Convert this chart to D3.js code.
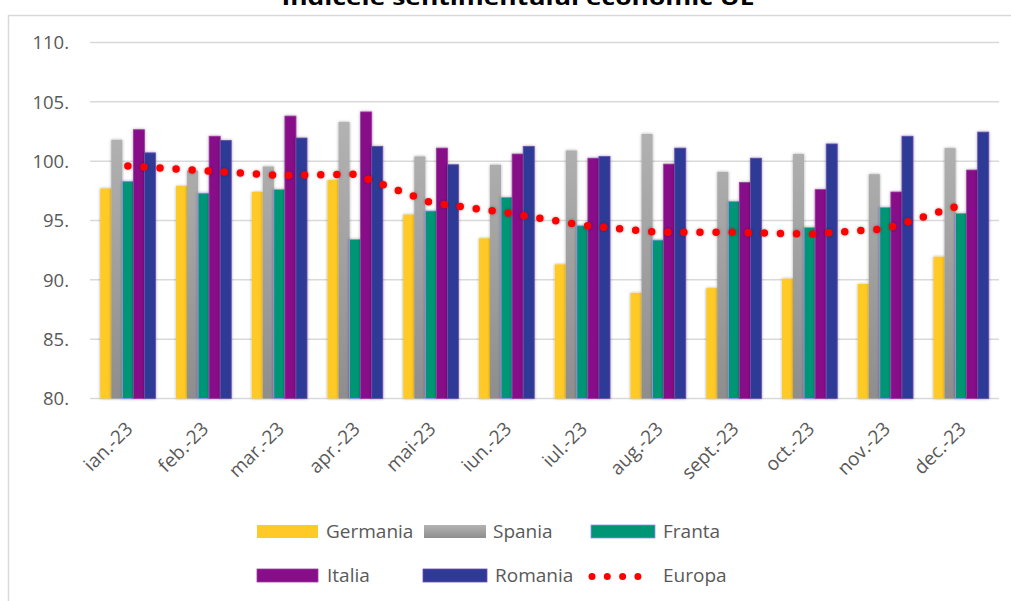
<!DOCTYPE html>
<html><head><meta charset="utf-8">
<script src="https://cdn.jsdelivr.net/npm/d3@7"></script>
<style>body{margin:0;background:#fff;} svg{display:block;}</style>
</head><body>
<svg id="c" width="1011" height="601"></svg>
<script>
const months = ["ian.-23","feb.-23","mar.-23","apr.-23","mai-23","iun.-23","iul.-23","aug.-23","sept.-23","oct.-23","nov.-23","dec.-23"];
const seriesNames = ["Germania","Spania","Franta","Italia","Romania"];
const germania = [97.7, 97.9, 97.4, 98.4, 95.5, 93.5, 91.3, 88.9, 89.3, 90.1, 89.65, 91.95];
const spania   = [101.8, 99.2, 99.55, 103.3, 100.4, 99.7, 100.9, 102.3, 99.1, 100.6, 98.9, 101.1];
const franta   = [98.3, 97.3, 97.6, 93.4, 95.8, 96.95, 94.55, 93.35, 96.6, 94.4, 96.1, 95.6];
const italia   = [102.65, 102.1, 103.8, 104.15, 101.1, 100.6, 100.25, 99.75, 98.2, 97.6, 97.4, 99.25];
const romania  = [100.7, 101.75, 101.95, 101.25, 99.7, 101.25, 100.4, 101.1, 100.25, 101.45, 102.1, 102.45];
const europa   = [99.6, 99.2, 98.8, 98.9, 96.5, 95.65, 94.6, 94.0, 94.0, 93.85, 94.3, 96.3];
const yTicks = [80, 85, 90, 95, 100, 105, 110];
const title = "Indicele sentimentului economic UE";

const values = [germania, spania, franta, italia, romania];
const fills = ["#FFC928", "url(#gradSp)", "#009675", "#880D88", "#2F3A96"];
const strokes = ["none", "none", "#8F8FF5", "#9A3FA0", "#6F4FB0"];
const legendFill = ["#FFC928", "url(#gradSpL)", "#009675", "#880D88", "#2F3A96"];

const svg = d3.select("#c");
const defs = svg.append("defs");
const g1 = defs.append("linearGradient").attr("id","gradSp").attr("gradientUnits","userSpaceOnUse")
  .attr("x1",0).attr("y1",120).attr("x2",0).attr("y2",398);
g1.append("stop").attr("offset","0").attr("stop-color","#B3B3B3");
g1.append("stop").attr("offset","1").attr("stop-color","#8E8E8E");
const g2 = defs.append("linearGradient").attr("id","gradSpL").attr("x1",0).attr("y1",0).attr("x2",0).attr("y2",1);
g2.append("stop").attr("offset","0").attr("stop-color","#B3B3B3");
g2.append("stop").attr("offset","1").attr("stop-color","#8E8E8E");
const f = defs.append("filter").attr("id","sh").attr("x","-30%").attr("y","-5%").attr("width","160%").attr("height","110%");
f.append("feDropShadow").attr("dx",0).attr("dy",0).attr("stdDeviation",1.6).attr("flood-color","#000").attr("flood-opacity",0.35);

// chart border
svg.append("path").attr("d","M8.5,601 L8.5,15.5 L1011,15.5").attr("fill","none").attr("stroke","#D9D9D9").attr("stroke-width",1.5);

// title (partly cut by the top edge, as in the reference)
svg.append("text").attr("x",518).attr("y",5).attr("text-anchor","middle")
  .attr("font-family","'Open Sans', sans-serif").attr("font-weight","bold").attr("font-size",21)
  .attr("fill","#000").attr("textLength",473).attr("lengthAdjust","spacingAndGlyphs").text(title);

const x0 = d3.scaleBand().domain(months).range([90, 999]).paddingInner(0.27).paddingOuter(0.135);
const x1 = d3.scaleBand().domain(seriesNames).range([0, x0.bandwidth()]);
const y = d3.scaleLinear().domain([80, 110]).range([398.5, 42.5]);

// gridlines
svg.append("g").selectAll("line").data(yTicks).join("line")
  .attr("x1",90).attr("x2",999).attr("y1",d=>y(d)).attr("y2",d=>y(d))
  .attr("stroke","#D9D9D9").attr("stroke-width",1.5);

// y axis labels
const yAxis = d3.axisLeft(y).tickValues(yTicks).tickSize(0).tickPadding(0).tickFormat(d=>d+".");
const ya = svg.append("g").attr("transform","translate(69,0)").call(yAxis);
ya.select(".domain").remove();
ya.selectAll("text").attr("font-family","'Open Sans', sans-serif").attr("font-size",18.5).attr("fill","#595959").attr("dy","0.35em");

// bars
const groups = svg.append("g").selectAll("g").data(months).join("g")
  .attr("transform", d=>`translate(${x0(d)},0)`);
groups.selectAll("rect").data((m,i)=>seriesNames.map((s,k)=>({s,k,v:values[k][i]}))).join("rect")
  .attr("x",d=>x1(d.s)).attr("width",x1.bandwidth())
  .attr("y",d=>y(d.v)).attr("height",d=>y(80)-y(d.v))
  .attr("fill",d=>fills[d.k]).attr("stroke",d=>strokes[d.k]).attr("stroke-width",0.8)
  .attr("filter","url(#sh)");

// europa dotted line
const line = d3.line().x((d,i)=>x0(months[i]) + x0.bandwidth()/2).y(d=>y(d));
svg.append("path").datum(europa).attr("d",line).attr("fill","none")
  .attr("stroke","#FF0000").attr("stroke-width",7.5).attr("stroke-linecap","round")
  .attr("stroke-dasharray","0 16.1").attr("filter","url(#sh)");

// x axis labels
const xa = svg.append("g").attr("transform","translate(0,399)").call(d3.axisBottom(x0).tickSize(0).tickPadding(0));
xa.select(".domain").remove();
xa.selectAll("text").attr("font-family","'Open Sans', sans-serif").attr("font-size",19).attr("fill","#595959")
  .attr("text-anchor","end").attr("dy",0).attr("transform","translate(6,31) rotate(-45)");

// legend
const legItems = [
  {name:"Germania", k:0, sx:257, sw:61, tx:326, row:0},
  {name:"Spania", k:1, sx:424, sw:62, tx:493, row:0},
  {name:"Franta", k:2, sx:591, sw:64, tx:663, row:0},
  {name:"Italia", k:3, sx:257, sw:61, tx:327, row:1},
  {name:"Romania", k:4, sx:423, sw:64, tx:495, row:1},
  {name:"Europa", k:5, sx:591, sw:62, tx:663, row:1}
];
const rowY = [531.5, 575.5];
const leg = svg.append("g");
legItems.forEach(it=>{
  const cy = rowY[it.row];
  if (it.k < 5) {
    leg.append("rect").attr("x",it.sx).attr("y",cy-6.5).attr("width",it.sw).attr("height",13)
      .attr("fill",legendFill[it.k]).attr("stroke",strokes[it.k]).attr("stroke-width",0.8);
  } else {
    leg.append("path").attr("d",`M${it.sx+1},${cy+1}L${it.sx+it.sw},${cy+1}`).attr("stroke","#FF0000")
      .attr("stroke-width",7).attr("stroke-linecap","round").attr("stroke-dasharray","0 15.3");
  }
  leg.append("text").attr("x",it.tx).attr("y",cy).attr("dy","0.35em")
    .attr("font-family","'Open Sans', sans-serif").attr("font-size",19).attr("fill","#595959").text(it.name);
});
</script>
</body></html>
